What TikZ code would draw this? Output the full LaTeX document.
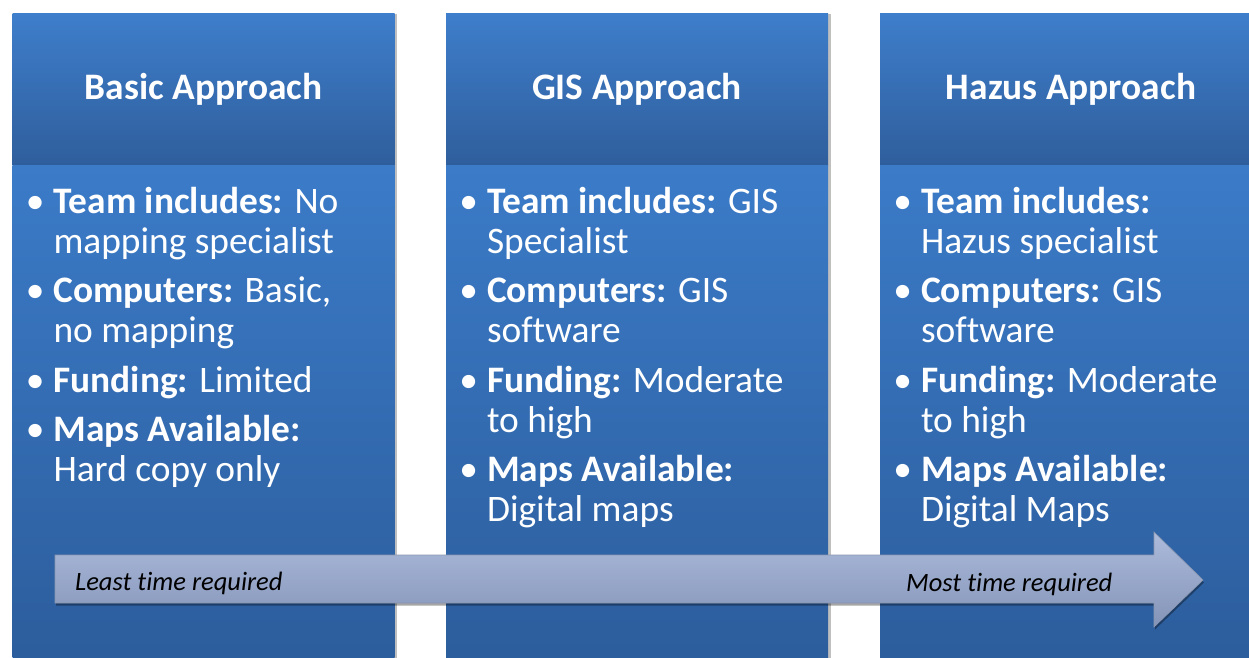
\documentclass[tikz,border=0pt]{standalone}
\usepackage{fontspec}
\setmainfont{Carlito}[Ligatures=NoCommon]
\usetikzlibrary{positioning,shadows}

\definecolor{headTop}{HTML}{3E7ECB}
\definecolor{headBot}{HTML}{2F5E9C}
\definecolor{bodyTop}{HTML}{3B7BC8}
\definecolor{bodyBot}{HTML}{2C5D9C}
\definecolor{arrowTop}{HTML}{ACBBDB}
\definecolor{arrowBot}{HTML}{8494B8}

\newcommand{\bul}{\makebox[0pt][r]{\textbullet\hspace{9pt}}}

\begin{document}
\begin{tikzpicture}[x=1pt, y=-1pt, node distance=9pt,
        col_shadow/.style={drop shadow={shadow xshift=2.5pt, shadow yshift=-1pt, opacity=0.25, fill=black}},
        head_style/.style={rectangle, inner sep=0pt, minimum width=382pt, minimum height=152pt,
            top color=headTop, bottom color=headBot, text=white,
            font=\fontsize{37.4}{42}\selectfont\bfseries, col_shadow},
        body_style/.style={rectangle, inner sep=0pt, minimum width=382pt, minimum height=495pt,
            top color=bodyTop, bottom color=bodyBot, col_shadow},
        item_style/.style={inner sep=0pt, text=white, align=left,
            font=\fontsize{37.4}{40}\selectfont},
        arrow_text/.style={inner sep=0pt, text=black, font=\fontsize{26.5}{30}\selectfont\itshape}]
    \useasboundingbox (0,0) rectangle (1249,657);

    % columns: header on top, body below
    \node [head_style] (h1) at (203.5,89) {Basic Approach};
    \node [head_style] (h2) at (637,89) {GIS Approach};
    \node [head_style] (h3) at (1071,89) {Hazus Approach};

    \node [body_style, below=0pt of h1] (b1) {};
    \node [body_style, below=0pt of h2] (b2) {};
    \node [body_style, below=0pt of h3] (b3) {};

    % bullet lists
    \node [item_style, anchor=north west] (t1) at ([xshift=41pt,yshift=-20pt]b1.north west)
        {\strut\bul\textbf{Team includes:} No\\mapping specialist\strut};
    \node [item_style, below=of t1.south west, anchor=north west] (c1)
        {\strut\bul\textbf{Computers:} Basic,\\no mapping\strut};
    \node [item_style, below=of c1.south west, anchor=north west] (f1)
        {\strut\bul\textbf{Funding:} Limited\strut};
    \node [item_style, below=of f1.south west, anchor=north west] (m1)
        {\strut\bul\textbf{Maps Available:}\\Hard copy only\strut};

    \node [item_style, anchor=north west] (t2) at ([xshift=41pt,yshift=-20pt]b2.north west)
        {\strut\bul\textbf{Team includes:} GIS\\Specialist\strut};
    \node [item_style, below=of t2.south west, anchor=north west] (c2)
        {\strut\bul\textbf{Computers:} GIS\\software\strut};
    \node [item_style, below=of c2.south west, anchor=north west] (f2)
        {\strut\bul\textbf{Funding:} Moderate\\to high\strut};
    \node [item_style, below=of f2.south west, anchor=north west] (m2)
        {\strut\bul\textbf{Maps Available:}\\Digital maps\strut};

    \node [item_style, anchor=north west] (t3) at ([xshift=41pt,yshift=-20pt]b3.north west)
        {\strut\bul\textbf{Team includes:}\\Hazus specialist\strut};
    \node [item_style, below=of t3.south west, anchor=north west] (c3)
        {\strut\bul\textbf{Computers:} GIS\\software\strut};
    \node [item_style, below=of c3.south west, anchor=north west] (f3)
        {\strut\bul\textbf{Funding:} Moderate\\to high\strut};
    \node [item_style, below=of f3.south west, anchor=north west] (m3)
        {\strut\bul\textbf{Maps Available:}\\Digital Maps\strut};

    % time arrow across the columns
    \draw [draw=arrowTop!80!black, line width=0.6pt, top color=arrowTop, bottom color=arrowBot,
           drop shadow={shadow xshift=1pt, shadow yshift=-2.5pt, opacity=0.35, fill=black}]
        (55,555) -- (1154,555) -- (1154,532) -- (1203,580) -- (1154,627) -- (1154,603)
        -- (55,603) -- cycle;

    \node [arrow_text, anchor=base west] (lt) at (75,590) {Least time required};
    \node [arrow_text, anchor=base west] (mt) at (906,591) {Most time required};
\end{tikzpicture}
\end{document}
